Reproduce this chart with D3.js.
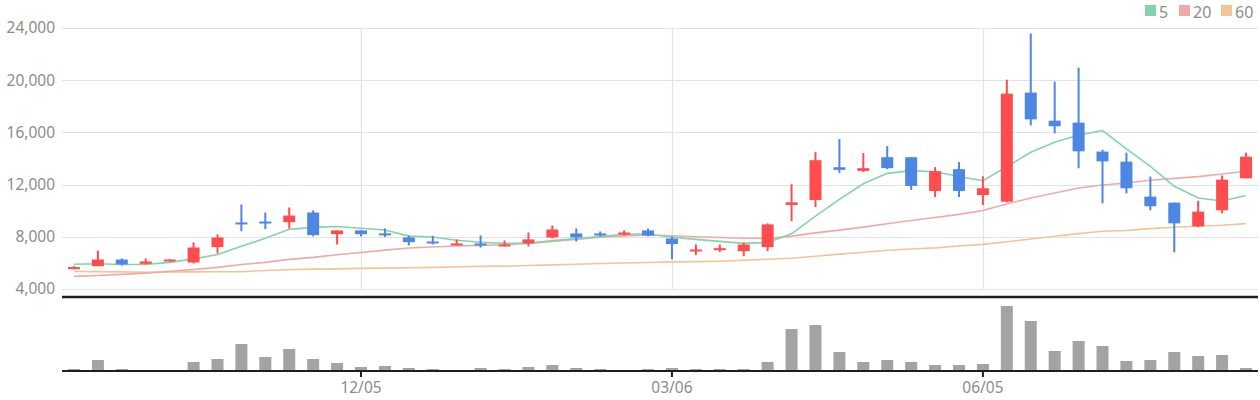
<!DOCTYPE html>
<html>
<head>
<meta charset="utf-8">
<script src="https://cdn.jsdelivr.net/npm/d3@7"></script>
<style>
  body { margin: 0; background: #fff; }
  text { font-family: "Noto Sans", sans-serif; }
</style>
</head>
<body>
<div id="chart"></div>
<script>
// weekly candles
const dates = [
  '09/12','09/19','09/26','10/03','10/10','10/17','10/24','10/31','11/07','11/14',
  '11/21','11/28','12/05','12/12','12/19','12/26','01/02','01/09','01/16','01/23',
  '01/30','02/06','02/13','02/20','02/27','03/06','03/13','03/20','03/27','04/03',
  '04/10','04/17','04/24','05/01','05/08','05/15','05/22','05/29','06/05','06/12',
  '06/19','06/26','07/03','07/10','07/17','07/24','07/31','08/07','08/14','08/21'
];
const open = [
  5520, 5750, 6260, 5930, 6110, 6030, 7210, 9100, 9170, 9120,
  9860, 8200, 8490, 8260, 7950, 7640, 7340, 7490, 7260, 7490,
  7950, 8260, 8260, 8180, 8490, 7870, 6920, 6970, 6900, 7210,
  10440, 10820, 13330, 13050, 14100, 14100, 11510, 13180, 11200, 10690,
  19050, 16900, 16750, 14530, 13760, 11080, 10620, 8800, 10030, 12480
];
const high = [
  5750, 6950, 6340, 6340, 6260, 7570, 8180, 10480, 9860, 10250,
  10020, 8490, 8490, 8640, 8100, 8080, 7800, 8100, 7720, 8330,
  8870, 8640, 8410, 8490, 8640, 8030, 7410, 7410, 7560, 9030,
  12030, 14490, 15490, 14410, 14950, 14100, 13330, 13720, 12640, 20040,
  23570, 19890, 20960, 14680, 14450, 12610, 10620, 10770, 12690, 14450
];
const low = [
  5520, 5750, 5800, 5880, 6110, 5960, 6720, 8430, 8590, 8640,
  8030, 7410, 8030, 7980, 7340, 7410, 7340, 7180, 7260, 7260,
  7870, 7640, 8030, 8100, 8030, 6280, 6590, 6820, 6510, 6900,
  9210, 10280, 12900, 12970, 13180, 11590, 11050, 11050, 10440, 10640,
  16540, 15930, 13250, 10570, 11330, 10030, 6810, 8730, 9800, 12480
];
const close = [
  5680, 6260, 5880, 6110, 6260, 7180, 7950, 8970, 9050, 9630,
  8130, 8490, 8200, 8130, 7590, 7520, 7490, 7340, 7410, 7800,
  8560, 7950, 8100, 8330, 8100, 7440, 7030, 7130, 7410, 8950,
  10640, 13870, 13130, 13260, 13260, 11900, 13030, 11510, 11720, 18970,
  17000, 16470, 14550, 13780, 11720, 10340, 9030, 9930, 12380, 14140
];
const volume = [
  20000, 110000, 20000, 10000, 2000, 90000, 120000, 270000, 140000, 220000,
  120000, 80000, 40000, 50000, 30000, 20000, 10000, 30000, 20000, 40000,
  60000, 30000, 20000, 10000, 20000, 30000, 20000, 20000, 20000, 90000,
  420000, 460000, 190000, 90000, 110000, 90000, 60000, 60000, 70000, 650000,
  500000, 200000, 300000, 250000, 100000, 110000, 190000, 150000, 160000, 30000
];
const ma5 = [
  5900, 5930, 5880, 5880, 6040, 6310, 6640, 7270, 7880, 8570,
  8720, 8790, 8660, 8520, 8050, 7980, 7730, 7580, 7500, 7510,
  7720, 7860, 8010, 8190, 8220, 7960, 7800, 7650, 7500, 7560,
  8230, 9590, 10870, 12060, 12860, 13070, 12980, 12620, 12300, 13370,
  14480, 15250, 15800, 16140, 14740, 13390, 11870, 10970, 10740, 11170
];
const ma20 = [
  4970, 5030, 5120, 5220, 5350, 5500, 5660, 5880, 6040, 6270,
  6420, 6630, 6800, 6980, 7140, 7220, 7290, 7340, 7390, 7490,
  7650, 7790, 7960, 8070, 8140, 8080, 8000, 7950, 7890, 7860,
  8050, 8300, 8510, 8740, 9000, 9250, 9480, 9720, 10010, 10510,
  10970, 11360, 11740, 11970, 12120, 12330, 12480, 12610, 12810, 13020
];
const ma60 = [
  5350, 5330, 5310, 5280, 5300, 5310, 5320, 5330, 5420, 5480,
  5520, 5540, 5580, 5600, 5630, 5660, 5700, 5730, 5750, 5800,
  5850, 5900, 5950, 5990, 6030, 6080, 6100, 6130, 6200, 6280,
  6360, 6510, 6670, 6820, 6970, 7060, 7150, 7290, 7420, 7620,
  7830, 8040, 8240, 8420, 8480, 8630, 8730, 8810, 8880, 9010
];
const priceTicks = [4000, 8000, 12000, 16000, 20000, 24000];
const dateTicks = ['12/05', '03/06', '06/05'];
const legendNames = ['5', '20', '60'];

const settings = {
  color: {
    up: '#ff4d4f',
    down: '#4e86e4',
    volume: '#a3a3a3',
    grid: '#e3e3e3',
    text: '#8c8c8c',
    axis: '#1e1e1e',
    ma: ['#82d4ab', '#f0a9a9', '#f0c597']
  }
};

const
  totalWidth = 1260,
  totalHeight = 400;
const
  left = 62,
  right = 1258,
  priceTop = 28,
  priceBottom = 289,
  dividerY = 297,
  volumeTop = 306,
  volumeBottom = 371;

//--------------------- SVG ----------------------------------------------------
const svg = d3.select('#chart').append('svg')
  .attr('width', totalWidth)
  .attr('height', totalHeight);

//--------------------- Scales -------------------------------------------------
const xScale = d3.scaleBand()
  .domain(dates)
  .range([left, right])
  .padding(0);
const bw = xScale.bandwidth();
const cx = d => xScale(d) + bw / 2;

const yScale = d3.scaleLinear()
  .domain([4000, 24000])
  .range([priceBottom, priceTop]);

const vScale = d3.scaleLinear()
  .domain([0, d3.max(volume)])
  .range([volumeBottom, volumeTop]);

//--------------------- Grid ---------------------------------------------------
const gridGroup = svg.append('g');
gridGroup.selectAll('line.h')
  .data(priceTicks)
  .enter()
  .append('line')
    .attr('x1', left)
    .attr('x2', right)
    .attr('y1', d => Math.round(yScale(d)) + 0.5)
    .attr('y2', d => Math.round(yScale(d)) + 0.5)
    .style('stroke', settings.color.grid)
    .style('stroke-width', 1.2);
gridGroup.selectAll('line.v')
  .data(dateTicks)
  .enter()
  .append('line')
    .attr('x1', d => Math.round(cx(d)) + 0.5)
    .attr('x2', d => Math.round(cx(d)) + 0.5)
    .attr('y1', priceTop)
    .attr('y2', priceBottom)
    .style('stroke', settings.color.grid)
    .style('stroke-width', 1.2);

//--------------------- Y axis -------------------------------------------------
const yAxis = d3.axisLeft(yScale)
  .tickValues(priceTicks)
  .tickSize(0)
  .tickPadding(7)
  .tickFormat(d3.format(','));
const yAxisView = svg.append('g')
  .attr('transform', 'translate(' + left + ',0)')
  .call(yAxis);
yAxisView.select('.domain').remove();
yAxisView.selectAll('text')
  .style('font-family', '"Noto Sans", sans-serif')
  .style('font-size', '15.5px')
  .style('fill', settings.color.text);

//--------------------- Moving averages ---------------------------------------
const line = d3.line()
  .x((d, i) => cx(dates[i]))
  .y(d => yScale(d));
[ma60, ma20, ma5].forEach(function(series, k){
  svg.append('path')
    .datum(series)
    .attr('d', line)
    .style('fill', 'none')
    .style('stroke', settings.color.ma[2 - k])
    .style('stroke-width', 1.6);
});

//--------------------- Candles ------------------------------------------------
const candles = svg.append('g')
  .selectAll('g')
  .data(dates)
  .enter()
  .append('g');
const candleColor = (d, i) => close[i] >= open[i] ? settings.color.up : settings.color.down;
candles.append('rect')
  .attr('x', d => cx(d) - 1)
  .attr('width', 2)
  .attr('y', (d, i) => yScale(high[i]))
  .attr('height', (d, i) => Math.max(1, yScale(low[i]) - yScale(high[i])))
  .attr('fill', candleColor);
candles.append('rect')
  .attr('x', d => cx(d) - 6)
  .attr('width', 12)
  .attr('y', (d, i) => yScale(Math.max(open[i], close[i])))
  .attr('height', (d, i) => Math.max(2, Math.abs(yScale(open[i]) - yScale(close[i]))))
  .attr('fill', candleColor);

//--------------------- Divider ------------------------------------------------
svg.append('line')
  .attr('x1', left)
  .attr('x2', right)
  .attr('y1', dividerY)
  .attr('y2', dividerY)
  .style('stroke', settings.color.axis)
  .style('stroke-width', 2.5);

//--------------------- Volume -------------------------------------------------
svg.append('g')
  .selectAll('rect')
  .data(volume)
  .enter()
  .append('rect')
    .attr('x', (d, i) => cx(dates[i]) - 6)
    .attr('width', 12)
    .attr('y', d => vScale(d))
    .attr('height', d => volumeBottom - vScale(d))
    .attr('fill', settings.color.volume);

//--------------------- X axis -------------------------------------------------
const xAxis = d3.axisBottom(xScale)
  .tickValues(dateTicks)
  .tickSize(6)
  .tickPadding(5);
const xAxisView = svg.append('g')
  .attr('transform', 'translate(0,' + volumeBottom + ')')
  .call(xAxis);
xAxisView.select('.domain')
  .attr('d', 'M' + left + ',0H' + right)
  .style('stroke', settings.color.axis)
  .style('stroke-width', 2);
xAxisView.selectAll('line')
  .style('stroke', settings.color.axis)
  .style('stroke-width', 2);
xAxisView.selectAll('text')
  .style('font-family', '"Noto Sans", sans-serif')
  .style('font-size', '15.5px')
  .style('fill', settings.color.text);

//--------------------- Legend -------------------------------------------------
const legendX = [1145, 1179, 1221];
const legend = svg.append('g')
  .selectAll('g')
  .data(legendNames)
  .enter()
  .append('g')
  .attr('transform', (d, i) => 'translate(' + legendX[i] + ',5)');
legend.append('rect')
  .attr('width', 11)
  .attr('height', 11)
  .attr('fill', (d, i) => settings.color.ma[i]);
legend.append('text')
  .attr('x', 14)
  .attr('y', 12.6)
  .style('font-size', '16px')
  .style('fill', settings.color.text)
  .text(d => d);
</script>
</body>
</html>
